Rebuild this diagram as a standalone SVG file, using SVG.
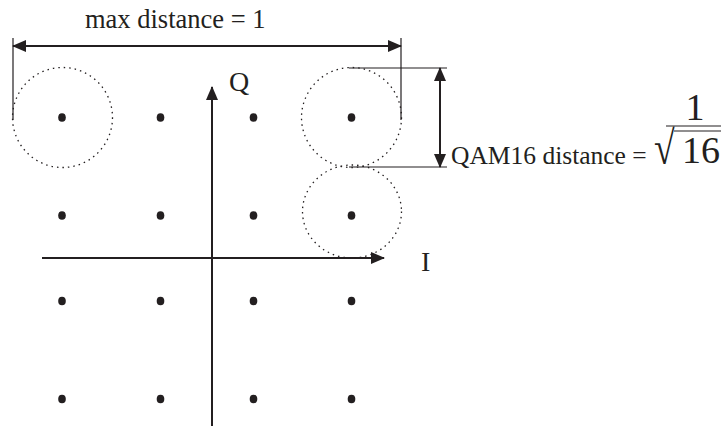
<svg xmlns="http://www.w3.org/2000/svg" width="722" height="426" viewBox="0 0 722 426">
<defs>
<marker id="ah" markerWidth="14" markerHeight="12" refX="13" refY="6" orient="auto-start-reverse" markerUnits="userSpaceOnUse">
<path d="M0,0 L14,6 L0,12 Z" fill="#231f20"/>
</marker>
<style>
.t{font-family:"Liberation Serif","Times New Roman",serif;fill:#231f20}
.ln{stroke:#231f20;stroke-width:1.2;fill:none}
.ax{stroke:#231f20;stroke-width:2;fill:none}
.circ{stroke:#231f20;stroke-width:1.3;fill:none;stroke-dasharray:1.5 4}
.dot{fill:#231f20}
</style>
</defs>
<g id="connectors">
<line class="ax" x1="42" y1="258" x2="384" y2="258" marker-end="url(#ah)"/>
<line class="ax" x1="212" y1="426" x2="212" y2="87" marker-end="url(#ah)"/>
<line class="ln" x1="13" y1="38" x2="13" y2="120"/>
<line class="ln" x1="401" y1="38" x2="401" y2="120"/>
<line class="ax" x1="13" y1="46" x2="401" y2="46" marker-start="url(#ah)" marker-end="url(#ah)"/>
<line class="ln" x1="349" y1="68" x2="447" y2="68"/>
<line class="ln" x1="349" y1="167" x2="447" y2="167"/>
<line class="ax" x1="440" y1="68" x2="440" y2="167" marker-start="url(#ah)" marker-end="url(#ah)"/>
</g>
<g id="circles">
<circle class="circ" cx="62.5" cy="117.5" r="50"/>
<circle class="circ" cx="351.5" cy="117.5" r="50"/>
<ellipse class="circ" cx="352" cy="211.5" rx="49.5" ry="46.5"/>
</g>
<g id="points">
<ellipse class="dot" cx="62" cy="117.5" rx="3.8" ry="4.3"/>
<ellipse class="dot" cx="160.5" cy="117.5" rx="3.8" ry="4.3"/>
<ellipse class="dot" cx="253.5" cy="117.5" rx="3.8" ry="4.3"/>
<ellipse class="dot" cx="351.5" cy="117.5" rx="3.8" ry="4.3"/>
<ellipse class="dot" cx="62" cy="215.5" rx="3.8" ry="4.3"/>
<ellipse class="dot" cx="160.5" cy="215.5" rx="3.8" ry="4.3"/>
<ellipse class="dot" cx="253.5" cy="215.5" rx="3.8" ry="4.3"/>
<ellipse class="dot" cx="351.5" cy="215.5" rx="3.8" ry="4.3"/>
<ellipse class="dot" cx="62" cy="301" rx="3.8" ry="4.3"/>
<ellipse class="dot" cx="160.5" cy="301" rx="3.8" ry="4.3"/>
<ellipse class="dot" cx="253.5" cy="301" rx="3.8" ry="4.3"/>
<ellipse class="dot" cx="351.5" cy="301" rx="3.8" ry="4.3"/>
<ellipse class="dot" cx="62" cy="399" rx="3.8" ry="4.3"/>
<ellipse class="dot" cx="160.5" cy="399" rx="3.8" ry="4.3"/>
<ellipse class="dot" cx="253.5" cy="399" rx="3.8" ry="4.3"/>
<ellipse class="dot" cx="351.5" cy="399" rx="3.8" ry="4.3"/>
</g>
<g id="labels">
<text class="t" x="85" y="28" font-size="26.5">max distance = 1</text>
<text class="t" x="229" y="91" font-size="28">Q</text>
<text class="t" x="421" y="271" font-size="28">I</text>
<text class="t" x="451" y="164" font-size="25.5">QAM16 distance =</text>
<text class="t" x="695" y="120" font-size="38" text-anchor="middle">1</text>
<line class="ln" x1="666" y1="126" x2="721" y2="126" stroke-width="1.5"/>
<text class="t" font-size="47" transform="translate(654,164) scale(0.8,1)">√</text>
<line class="ln" x1="674" y1="131" x2="721" y2="131" stroke-width="1.5"/>
<text class="t" x="682" y="163" font-size="38">16</text>
</g>
</svg>
